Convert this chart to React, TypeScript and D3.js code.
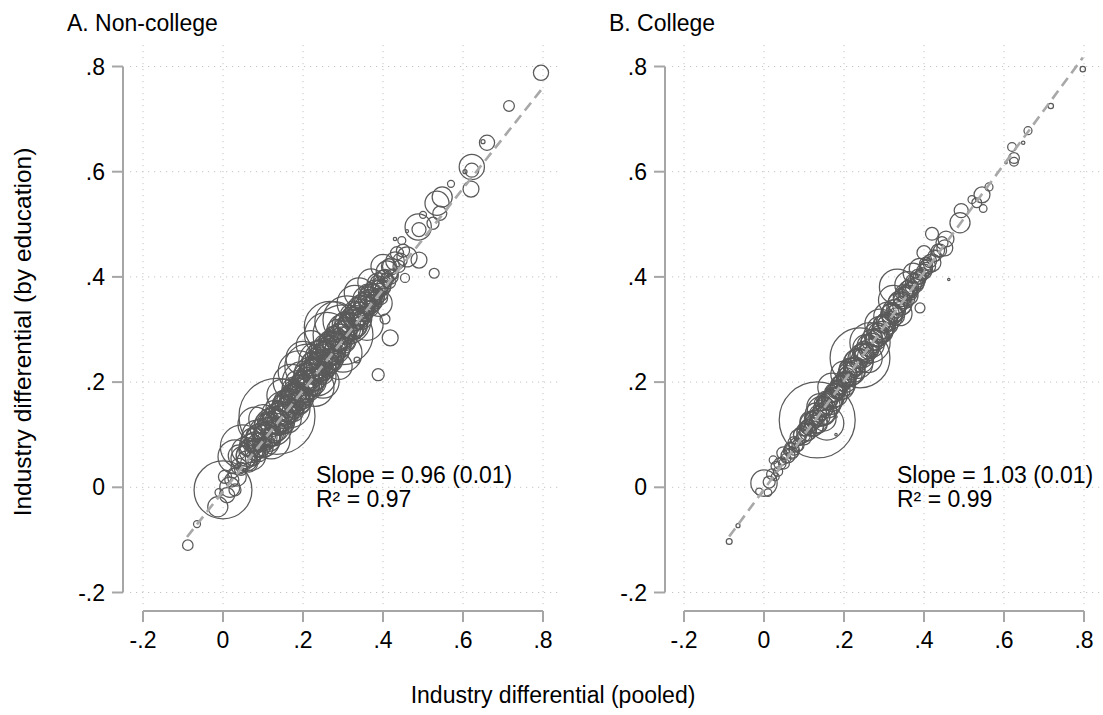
import React from "react";
import * as d3 from "d3";

// ---------- data ----------
const axisTicks = [-0.2, 0, 0.2, 0.4, 0.6, 0.8];
const tickLabels = ["-.2", "0", ".2", ".4", ".6", ".8"];

const panelTitles = ["A. Non-college", "B. College"];
const slopeLabels = ["Slope = 0.96 (0.01)", "Slope = 1.03 (0.01)"];
const r2Labels = ["R² = 0.97", "R² = 0.99"];
const fitSlopes = [0.96, 1.03];
const fitIntercepts = [-0.008, -0.004];
const fitRanges = [[-0.09, 0.8], [-0.087, 0.797]];

// [pooled differential, differential by education, employment weight]
const nonCollege: [number, number, number][] = [
  [-0.088, -0.11, 1.9], [-0.065, -0.07, 0.85], [-0.013, -0.037, 7], [-0.01, -0.01, 1.1],
  [0.0, -0.005, 58], [0.017, 0.0, 7], [0.022, 0.014, 3.4], [0.025, 0.027, 1.7],
  [0.03, -0.005, 2.5], [0.03, 0.058, 20], [0.048, 0.077, 33], [0.04, 0.04, 4.4],
  [0.05, 0.055, 10], [0.06, 0.05, 7], [0.06, 0.075, 4.4], [0.07, 0.06, 15],
  [0.075, 0.09, 10], [0.08, 0.07, 7], [0.085, 0.1, 15], [0.005, 0.02, 3],
  [0.01, -0.015, 4], [0.035, 0.02, 6], [0.04, 0.06, 8], [0.045, 0.035, 3],
  [0.055, 0.07, 12], [0.065, 0.045, 5], [0.085, 0.075, 6], [0.09, 0.095, 12],
  [0.095, 0.08, 3], [0.1, 0.09, 20], [0.1, 0.11, 5], [0.105, 0.1, 8],
  [0.11, 0.085, 4], [0.11, 0.12, 10], [0.115, 0.105, 15], [0.12, 0.095, 6],
  [0.12, 0.13, 4], [0.125, 0.115, 25], [0.13, 0.105, 8], [0.135, 0.135, 100],
  [0.135, 0.125, 10], [0.14, 0.115, 5], [0.14, 0.145, 7], [0.145, 0.13, 12],
  [0.15, 0.15, 20], [0.15, 0.12, 4], [0.155, 0.14, 9], [0.16, 0.155, 6],
  [0.16, 0.13, 14], [0.165, 0.165, 10], [0.17, 0.15, 25], [0.17, 0.175, 5],
  [0.175, 0.16, 7], [0.18, 0.145, 4], [0.18, 0.185, 12], [0.185, 0.17, 18],
  [0.19, 0.16, 9], [0.19, 0.195, 6], [0.195, 0.18, 14], [0.2, 0.2, 30],
  [0.2, 0.17, 8], [0.205, 0.19, 5], [0.21, 0.23, 34], [0.21, 0.205, 10],
  [0.215, 0.185, 6], [0.22, 0.215, 20], [0.22, 0.24, 5], [0.225, 0.2, 12],
  [0.23, 0.225, 8], [0.235, 0.21, 25], [0.235, 0.25, 9], [0.24, 0.24, 28],
  [0.24, 0.22, 4], [0.245, 0.23, 15], [0.25, 0.215, 7], [0.25, 0.26, 10],
  [0.255, 0.245, 18], [0.26, 0.235, 6], [0.26, 0.275, 5], [0.265, 0.255, 12],
  [0.27, 0.24, 9], [0.267, 0.305, 45], [0.275, 0.265, 20], [0.28, 0.285, 8],
  [0.28, 0.25, 5], [0.285, 0.27, 14], [0.3, 0.29, 62], [0.29, 0.275, 6],
  [0.295, 0.305, 10], [0.3, 0.28, 12], [0.305, 0.315, 7], [0.31, 0.318, 40],
  [0.31, 0.29, 5], [0.315, 0.3, 9], [0.32, 0.325, 6], [0.325, 0.31, 15],
  [0.33, 0.295, 4], [0.335, 0.242, 0.6], [0.335, 0.33, 10], [0.34, 0.32, 7],
  [0.345, 0.34, 12], [0.35, 0.325, 5], [0.355, 0.35, 8], [0.36, 0.356, 14],
  [0.36, 0.335, 4], [0.365, 0.345, 6], [0.37, 0.365, 9], [0.375, 0.35, 5],
  [0.38, 0.375, 7], [0.385, 0.362, 4], [0.388, 0.214, 2.5], [0.39, 0.385, 10],
  [0.393, 0.38, 4.4], [0.395, 0.36, 3], [0.4, 0.395, 6], [0.405, 0.32, 1.7],
  [0.405, 0.4, 4], [0.41, 0.41, 8], [0.415, 0.39, 3], [0.418, 0.284, 4.4],
  [0.42, 0.42, 5], [0.425, 0.405, 2], [0.43, 0.472, 0.2], [0.43, 0.43, 6],
  [0.443, 0.432, 3.4], [0.447, 0.469, 1.1], [0.455, 0.398, 1.4], [0.46, 0.438, 7],
  [0.46, 0.487, 0.16], [0.488, 0.495, 12], [0.49, 0.49, 3.4], [0.49, 0.432, 4.4],
  [0.5, 0.518, 0.85], [0.525, 0.502, 2.5], [0.528, 0.407, 1.7], [0.535, 0.54, 10],
  [0.542, 0.521, 3.4], [0.548, 0.552, 7], [0.57, 0.577, 0.85], [0.605, 0.6, 0.28],
  [0.62, 0.567, 4.4], [0.622, 0.609, 11], [0.622, 0.603, 3.4], [0.65, 0.657, 0.28],
  [0.66, 0.655, 4], [0.715, 0.725, 2], [0.795, 0.788, 4],
  [0.07, 0.08, 9], [0.075, 0.055, 4], [0.08, 0.095, 6], [0.09, 0.065, 5],
  [0.095, 0.11, 8], [0.1, 0.075, 7], [0.105, 0.125, 4], [0.11, 0.1, 12],
  [0.115, 0.09, 9], [0.12, 0.115, 7], [0.125, 0.1, 5], [0.13, 0.14, 12],
  [0.135, 0.11, 9], [0.14, 0.13, 18], [0.145, 0.16, 5], [0.15, 0.135, 10],
  [0.155, 0.12, 6], [0.155, 0.165, 8], [0.16, 0.145, 12], [0.165, 0.14, 5],
  [0.165, 0.18, 4], [0.17, 0.16, 10], [0.175, 0.145, 8], [0.175, 0.185, 6],
  [0.18, 0.17, 14], [0.185, 0.155, 5], [0.185, 0.2, 9], [0.19, 0.175, 7],
  [0.195, 0.205, 5], [0.195, 0.165, 6], [0.2, 0.185, 12], [0.205, 0.215, 8],
  [0.205, 0.175, 4], [0.21, 0.195, 15], [0.215, 0.225, 6], [0.215, 0.2, 9],
  [0.22, 0.19, 5], [0.225, 0.235, 10], [0.225, 0.215, 7], [0.23, 0.205, 9],
  [0.23, 0.25, 4], [0.235, 0.225, 12], [0.24, 0.26, 7], [0.245, 0.215, 6],
  [0.245, 0.245, 9], [0.25, 0.235, 14], [0.255, 0.27, 8], [0.255, 0.225, 4],
  [0.26, 0.25, 10], [0.265, 0.235, 7], [0.265, 0.28, 6], [0.27, 0.26, 15],
  [0.275, 0.29, 5], [0.275, 0.245, 8], [0.28, 0.27, 10], [0.285, 0.3, 7],
  [0.285, 0.255, 5], [0.29, 0.285, 12], [0.295, 0.265, 6], [0.3, 0.31, 8],
  [0.305, 0.295, 10], [0.31, 0.275, 4], [0.315, 0.33, 5], [0.32, 0.305, 12],
  [0.325, 0.34, 4], [0.33, 0.32, 9], [0.335, 0.305, 6], [0.34, 0.345, 5],
  [0.345, 0.32, 8], [0.35, 0.345, 10], [0.355, 0.33, 4], [0.36, 0.37, 5],
  [0.365, 0.36, 8], [0.37, 0.34, 4], [0.375, 0.37, 6], [0.38, 0.355, 5],
  [0.385, 0.39, 3], [0.39, 0.37, 6], [0.4, 0.38, 4], [0.41, 0.395, 3],
  [0.415, 0.42, 4], [0.42, 0.4, 3.5], [0.435, 0.445, 3], [0.44, 0.42, 2.5],
  [0.45, 0.45, 3],
  [0.19, 0.22, 30], [0.23, 0.19, 25], [0.26, 0.29, 35], [0.3, 0.255, 25],
  [0.33, 0.35, 22], [0.36, 0.31, 18], [0.17, 0.2, 22], [0.12, 0.09, 25],
  [0.08, 0.12, 20], [0.2, 0.245, 20], [0.25, 0.2, 18], [0.28, 0.315, 28],
  [0.34, 0.37, 15], [0.39, 0.35, 12], [0.37, 0.39, 12], [0.4, 0.42, 10],
  [0.15, 0.175, 18], [0.1, 0.13, 14], [0.22, 0.27, 15], [0.29, 0.23, 12],
  [0.105, 0.095, 10], [0.115, 0.12, 8], [0.125, 0.125, 12], [0.135, 0.12, 8],
  [0.145, 0.14, 10], [0.155, 0.15, 12], [0.165, 0.155, 9], [0.175, 0.17, 12],
  [0.185, 0.175, 10], [0.195, 0.19, 12], [0.205, 0.2, 9], [0.215, 0.21, 12],
  [0.225, 0.22, 10], [0.235, 0.23, 12], [0.245, 0.235, 9], [0.255, 0.25, 12],
  [0.265, 0.26, 10], [0.275, 0.27, 12], [0.285, 0.28, 9], [0.295, 0.285, 12],
  [0.305, 0.3, 10], [0.315, 0.31, 9], [0.325, 0.32, 10], [0.335, 0.325, 8],
  [0.345, 0.33, 9], [0.355, 0.345, 7], [0.365, 0.355, 8], [0.375, 0.36, 6],
  [0.385, 0.375, 6], [0.395, 0.385, 5], [0.06, 0.06, 8], [0.07, 0.07, 10],
  [0.08, 0.085, 8], [0.09, 0.08, 10],
];

const college: [number, number, number][] = [
  [-0.087, -0.103, 0.6], [-0.065, -0.073, 0.28], [-0.012, -0.008, 0.85], [0.0, 0.008, 12],
  [0.013, 0.01, 2.5], [0.01, -0.01, 1], [0.023, 0.052, 1.1], [0.028, 0.02, 1.1],
  [0.03, 0.04, 1.7], [0.04, 0.045, 2.5], [0.048, 0.065, 2.8], [0.055, 0.055, 1.7],
  [0.06, 0.06, 3.4], [0.065, 0.075, 2], [0.07, 0.07, 4], [0.075, 0.085, 2.5],
  [0.08, 0.08, 3.4], [0.085, 0.095, 4.4], [0.09, 0.09, 2], [0.095, 0.1, 5],
  [0.1, 0.11, 3], [0.105, 0.105, 6], [0.11, 0.115, 4], [0.115, 0.125, 7],
  [0.12, 0.12, 10], [0.125, 0.13, 5], [0.133, 0.128, 100], [0.13, 0.14, 8],
  [0.135, 0.12, 6], [0.14, 0.153, 12], [0.145, 0.145, 15], [0.15, 0.155, 5],
  [0.155, 0.15, 4], [0.157, 0.122, 20], [0.16, 0.165, 6], [0.165, 0.16, 9],
  [0.17, 0.175, 4], [0.175, 0.17, 7], [0.18, 0.134, 0.1], [0.18, 0.1, 0.1],
  [0.18, 0.185, 5], [0.185, 0.18, 3], [0.19, 0.195, 6], [0.195, 0.19, 10],
  [0.2, 0.205, 4], [0.205, 0.2, 7], [0.21, 0.215, 5], [0.215, 0.225, 8],
  [0.22, 0.22, 12], [0.225, 0.23, 6], [0.23, 0.24, 9], [0.235, 0.235, 15],
  [0.24, 0.246, 62], [0.245, 0.25, 10], [0.25, 0.255, 7], [0.255, 0.265, 12],
  [0.26, 0.26, 5], [0.265, 0.275, 28], [0.27, 0.28, 8], [0.275, 0.27, 4],
  [0.28, 0.29, 10], [0.285, 0.285, 6], [0.29, 0.3, 12], [0.295, 0.31, 5],
  [0.3, 0.305, 9], [0.305, 0.315, 6], [0.31, 0.325, 14], [0.315, 0.32, 4],
  [0.32, 0.33, 8], [0.323, 0.356, 15], [0.33, 0.34, 6], [0.333, 0.381, 22],
  [0.34, 0.35, 10], [0.345, 0.355, 5], [0.35, 0.36, 8], [0.355, 0.37, 4],
  [0.36, 0.365, 7], [0.365, 0.38, 5], [0.37, 0.38, 3], [0.373, 0.407, 7],
  [0.38, 0.39, 5], [0.385, 0.4, 4], [0.39, 0.341, 1.7], [0.395, 0.405, 3],
  [0.4, 0.446, 3.4], [0.405, 0.415, 3], [0.41, 0.42, 4], [0.42, 0.427, 5.5],
  [0.42, 0.482, 2.9], [0.43, 0.44, 2], [0.44, 0.45, 3], [0.452, 0.455, 4.4],
  [0.455, 0.472, 4.4], [0.462, 0.395, 0.1], [0.49, 0.503, 7], [0.493, 0.526, 3.4],
  [0.52, 0.547, 1.1], [0.532, 0.541, 1.7], [0.545, 0.556, 4.4], [0.548, 0.53, 1],
  [0.5625, 0.571, 1.1], [0.605, 0.617, 0.1], [0.62, 0.647, 1.3], [0.625, 0.626, 2],
  [0.625, 0.619, 1.3], [0.648, 0.655, 0.2], [0.66, 0.678, 1.1], [0.717, 0.725, 0.5],
  [0.797, 0.795, 0.5],
  [0.02, 0.025, 2], [0.035, 0.03, 1.5], [0.045, 0.05, 1.2], [0.05, 0.045, 2],
  [0.06, 0.07, 1.5], [0.07, 0.065, 2.5], [0.075, 0.07, 1.5], [0.085, 0.08, 2.5],
  [0.09, 0.1, 3], [0.1, 0.095, 4], [0.105, 0.115, 2.5], [0.11, 0.105, 5],
  [0.115, 0.11, 3], [0.12, 0.13, 4], [0.125, 0.115, 6], [0.13, 0.125, 9],
  [0.135, 0.14, 5], [0.14, 0.135, 7], [0.145, 0.16, 4], [0.15, 0.14, 8],
  [0.155, 0.165, 6], [0.16, 0.155, 10], [0.165, 0.17, 5], [0.17, 0.165, 8],
  [0.175, 0.18, 6], [0.18, 0.175, 9], [0.185, 0.19, 4], [0.19, 0.185, 7],
  [0.195, 0.2, 5], [0.2, 0.195, 9], [0.205, 0.21, 6], [0.21, 0.205, 4],
  [0.215, 0.215, 10], [0.22, 0.23, 5], [0.225, 0.22, 8], [0.23, 0.23, 6],
  [0.235, 0.245, 7], [0.245, 0.24, 9], [0.25, 0.26, 6], [0.255, 0.25, 5],
  [0.26, 0.27, 8], [0.27, 0.27, 10], [0.275, 0.285, 5], [0.28, 0.28, 7],
  [0.29, 0.29, 6], [0.295, 0.295, 8], [0.3, 0.315, 4], [0.31, 0.31, 7],
  [0.315, 0.33, 6], [0.325, 0.335, 9], [0.33, 0.325, 5], [0.335, 0.35, 7],
  [0.345, 0.345, 6], [0.35, 0.37, 5], [0.36, 0.375, 6], [0.365, 0.37, 4],
  [0.375, 0.39, 5], [0.38, 0.385, 4], [0.39, 0.4, 3], [0.4, 0.41, 4],
  [0.405, 0.425, 3], [0.415, 0.43, 3], [0.425, 0.44, 2.5], [0.435, 0.45, 3],
  [0.445, 0.465, 2.5],
  [0.17, 0.19, 14], [0.2, 0.215, 12], [0.29, 0.31, 16], [0.36, 0.385, 12],
  [0.15, 0.13, 10], [0.26, 0.245, 14], [0.34, 0.33, 10], [0.39, 0.415, 8],
  [0.105, 0.11, 3], [0.125, 0.125, 4], [0.145, 0.15, 5], [0.165, 0.165, 4],
  [0.185, 0.185, 5], [0.205, 0.205, 5], [0.225, 0.225, 5], [0.245, 0.255, 6],
  [0.265, 0.265, 6], [0.285, 0.295, 6], [0.305, 0.31, 5], [0.325, 0.33, 5],
  [0.345, 0.36, 5], [0.365, 0.375, 4], [0.385, 0.395, 4], [0.405, 0.42, 3],
];

const panelData = [nonCollege, college];

// ---------- layout ----------
const W = 1103;
const H = 715;
const FONT = "'Liberation Sans', Arial, Helvetica, sans-serif";
const panelX0 = [143, 684]; // pixel of x = -0.2
const yAxisX = [123, 665];
const yTop = 66.5;
const yBottom = 592.5;
const xAxisY = 611;

const rScale = d3.scaleSqrt().domain([0, 100]).range([0, 38]);
const yScale = d3.scaleLinear().domain([-0.2, 0.8]).range([yBottom, yTop]);

function Panel({ idx }: { idx: number }) {
  const x = d3.scaleLinear().domain([-0.2, 0.8]).range([panelX0[idx], panelX0[idx] + 400]);
  const y = yScale;
  const ax = yAxisX[idx];
  const gridLeft = ax + 7;
  const gridRight = ax + 438;
  const pts = panelData[idx];
  const [f0, f1] = fitRanges[idx];
  const line = d3
    .line<number>()
    .x((d) => x(d))
    .y((d) => y(fitIntercepts[idx] + fitSlopes[idx] * d));
  const labelX = x(-0.2) + (idx === 0 ? 173 : 213);
  return (
    <g>
      {axisTicks.map((t) => (
        <line
          key={"h" + t}
          x1={gridLeft}
          x2={gridRight}
          y1={y(t)}
          y2={y(t)}
          stroke="#c4c4c4"
          strokeWidth={1}
          strokeDasharray="1.2,4.8"
        />
      ))}
      {axisTicks.map((t) => (
        <line
          key={"v" + t}
          x1={x(t)}
          x2={x(t)}
          y1={45}
          y2={605}
          stroke="#c4c4c4"
          strokeWidth={1}
          strokeDasharray="1.2,4.8"
        />
      ))}
      <line x1={ax} x2={ax} y1={y(0.8)} y2={y(-0.2)} stroke="#a6a6a6" strokeWidth={2} />
      {axisTicks.map((t, i) => (
        <g key={"yt" + t}>
          <line x1={ax - 11} x2={ax} y1={y(t)} y2={y(t)} stroke="#a6a6a6" strokeWidth={2} />
          <text x={ax - 18} y={y(t) + 8} textAnchor="end" fontFamily={FONT} fontSize={23} fill="#000">
            {tickLabels[i]}
          </text>
        </g>
      ))}
      <line x1={x(-0.2)} x2={x(0.8)} y1={xAxisY} y2={xAxisY} stroke="#a6a6a6" strokeWidth={2} />
      {axisTicks.map((t, i) => (
        <g key={"xt" + t}>
          <line x1={x(t)} x2={x(t)} y1={xAxisY} y2={xAxisY + 11} stroke="#a6a6a6" strokeWidth={2} />
          <text x={x(t)} y={xAxisY + 37} textAnchor="middle" fontFamily={FONT} fontSize={23} fill="#000">
            {tickLabels[i]}
          </text>
        </g>
      ))}
      {pts.map((p, i) => (
        <circle
          key={"c" + i}
          cx={x(p[0])}
          cy={y(p[1])}
          r={Math.max(rScale(p[2]), 0.8)}
          fill="none"
          stroke="#5a5a5a"
          strokeWidth={1.25}
        />
      ))}
      <path
        d={line([f0, f1]) || ""}
        fill="none"
        stroke="#a8a8a8"
        strokeWidth={2.6}
        strokeDasharray="10,6"
      />
      <text x={labelX} y={483} fontFamily={FONT} fontSize={23} fill="#000">
        {slopeLabels[idx]}
      </text>
      <text x={labelX} y={507} fontFamily={FONT} fontSize={23} fill="#000">
        {r2Labels[idx]}
      </text>
      <text x={ax - 56} y={31} fontFamily={FONT} fontSize={23} fill="#000">
        {panelTitles[idx]}
      </text>
    </g>
  );
}

export default function App() {
  return (
    <svg
      width={W}
      height={H}
      viewBox={`0 0 ${W} ${H}`}
      style={{ position: "absolute", left: 0, top: 0, background: "#fff" }}
    >
      <rect x={0} y={0} width={W} height={H} fill="#fff" />
      <Panel idx={0} />
      <Panel idx={1} />
      <text x={553} y={703} textAnchor="middle" fontFamily={FONT} fontSize={23} fill="#000">
        Industry differential (pooled)
      </text>
      <text
        transform={`translate(31,332) rotate(-90)`}
        textAnchor="middle"
        fontFamily={FONT}
        fontSize={24.5}
        fill="#000"
      >
        Industry differential (by education)
      </text>
    </svg>
  );
}
